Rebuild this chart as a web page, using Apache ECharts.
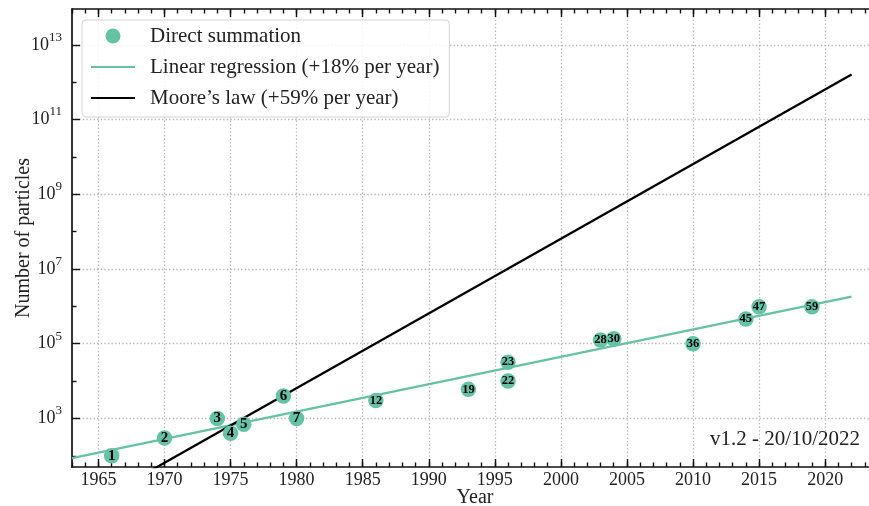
<!DOCTYPE html>
<html>
<head>
<meta charset="utf-8">
<script src="https://cdn.jsdelivr.net/npm/echarts@6/dist/echarts.min.js"></script>
<style>html,body{margin:0;padding:0;background:#fff}#c{width:869px;height:506px}</style>
</head>
<body>
<div id="c"></div>
<script>
// ---- data ----
const pointLabels = ['1','2','3','4','5','6','7','12','19','22','23','28','30','36','45','47','59'];
const pointYears  = [1966,1970,1974,1975,1976,1979,1980,1986,1993,1996,1996,2003,2004,2010,2014,2015,2019];
const pointN      = [100,300,1000,400,700,4000,1000,3000,6000,10000,32000,126000,135000,100000,460000,980000,980000];
const regressionYears = [1963, 2022];
const regressionN     = [86, 1.82e6];
const mooreYears = [1969, 2022];
const mooreN     = [41, 1.6e12];
const xTickLabels = [1965,1970,1975,1980,1985,1990,1995,2000,2005,2010,2015,2020];
const yTickLabels = [1e3,1e5,1e7,1e9,1e11,1e13];
const yMinorTicks = [1e2,1e4,1e6,1e8,1e10,1e12];
const seriesNames = ['Direct summation','Linear regression (+18% per year)','Moore’s law (+59% per year)'];
const versionText = 'v1.2 - 20/10/2022';

// ---- layout constants ----
const X_MIN = 1963, X_MAX = 2024;
const Y_MIN = Math.pow(10, 1.70), Y_MAX = Math.pow(10, 13.96);
const xMinorTicks = [];
for (let y = X_MIN; y <= X_MAX; y++) xMinorTicks.push(y);

const FONT = 'Liberation Serif';
const TXT = '#222';
const AX = '#111';
const TEAL = '#66c2a5';
const gridLine = {show:true, lineStyle:{color:'#b4b4b4', width:1.3, type:[1.3,2.3]}};

function xAx(pos, major) {
  return {
    type:'value', gridIndex:0, position:pos, min:X_MIN, max:X_MAX, offset:0,
    axisLine:{show:major, onZero:false, lineStyle:{color:AX, width:1.7}},
    axisTick:{show:true, inside:true, length: major?8:4.5, customValues: major?xTickLabels:xMinorTicks,
              lineStyle:{color:AX, width:1.4}},
    axisLabel:{show: major && pos==='bottom', customValues:xTickLabels, formatter:v=>String(v),
               fontFamily:FONT, fontSize:18, color:TXT, margin:4},
    splitLine: (major && pos==='bottom') ? gridLine : {show:false},
    name: (major && pos==='bottom') ? 'Year' : '',
    nameLocation:'middle', nameGap:21, nameMoveOverlap:false,
    nameTextStyle:{fontFamily:FONT, fontSize:20, color:TXT}
  };
}
function yAx(pos, major) {
  return {
    type:'log', logBase:10, gridIndex:0, position:pos, min:Y_MIN, max:Y_MAX, offset:0,
    axisLine:{show:major, onZero:false, lineStyle:{color:AX, width:1.7}},
    axisTick:{show:true, inside:true, length: major?8:4.5, customValues: major?yTickLabels:yMinorTicks,
              lineStyle:{color:AX, width:1.4}},
    axisLabel:{show: major, customValues:yTickLabels, margin:10,
      formatter: v => '{b|10}{s|' + Math.round(Math.log10(v)) + '}',
      rich:{
        b:{fontFamily:FONT, fontSize:18, color:TXT, lineHeight:28},
        s:{fontFamily:FONT, fontSize:13, color:TXT, lineHeight:12, verticalAlign:'top'}
      }},
    splitLine: major ? gridLine : {show:false},
    name: major ? 'Number of particles' : '',
    nameLocation:'middle', nameGap:38, nameMoveOverlap:false,
    nameTextStyle:{fontFamily:FONT, fontSize:20, color:TXT}
  };
}

const scatterData = pointLabels.map((lab, i) => ({
  name: lab,
  value: [pointYears[i], pointN[i]]
}));

const chart = echarts.init(document.getElementById('c'), null, {renderer:'canvas'});
chart.setOption({
  animation:false,
  backgroundColor:'#fff',
  grid:{left:72, top:9, width:806, height:458, containLabel:false, outerBoundsMode:'none'},
  xAxis:[xAx('bottom',true), xAx('bottom',false), xAx('top',true), xAx('top',false)],
  yAxis:[yAx('left',true), yAx('left',false)],
  legend:{
    orient:'vertical', left:82, top:20, padding:[5,10,8,8], itemGap:9,
    itemWidth:44, itemHeight:15,
    backgroundColor:'rgba(255,255,255,0.85)', borderColor:'#d4d4d4', borderWidth:1, borderRadius:4,
    textStyle:{fontFamily:FONT, fontSize:21, color:TXT, lineHeight:22, padding:[0,0,0,10]},
    data:[
      {name:seriesNames[0], icon:'circle'},
      {name:seriesNames[1], itemStyle:{opacity:0}},
      {name:seriesNames[2], itemStyle:{opacity:0}}
    ]
  },
  series:[
    {
      name:seriesNames[1], type:'line', xAxisIndex:0, yAxisIndex:0, symbol:'none', clip:true,
      data: regressionYears.map((y,i)=>[y, regressionN[i]]),
      lineStyle:{color:TEAL, width:2.3}, itemStyle:{color:TEAL}, z:2
    },
    {
      name:seriesNames[2], type:'line', xAxisIndex:0, yAxisIndex:0, symbol:'none', clip:true,
      data: mooreYears.map((y,i)=>[y, mooreN[i]]),
      lineStyle:{color:'#000', width:2.3}, itemStyle:{color:'#000'}, z:2
    },
    {
      name:seriesNames[0], type:'scatter', xAxisIndex:0, yAxisIndex:0, symbolSize:15.5,
      itemStyle:{color:TEAL, opacity:1},
      label:{show:true, position:'inside',
             formatter:p => (p.name.length > 1 ? '{d|' : '{s|') + p.name + '}',
             rich:{
               s:{fontFamily:FONT, fontWeight:'bold', fontSize:15, color:'#000'},
               d:{fontFamily:FONT, fontWeight:'bold', fontSize:12.5, color:'#000'}
             }},
      data: scatterData, z:5
    }
  ],
  graphic:[{
    type:'text', x:860, y:439, z:10,
    style:{text:versionText, textAlign:'right', textVerticalAlign:'middle',
           font:'21px "Liberation Serif"', fill:TXT}
  }]
});
</script>
</body>
</html>
